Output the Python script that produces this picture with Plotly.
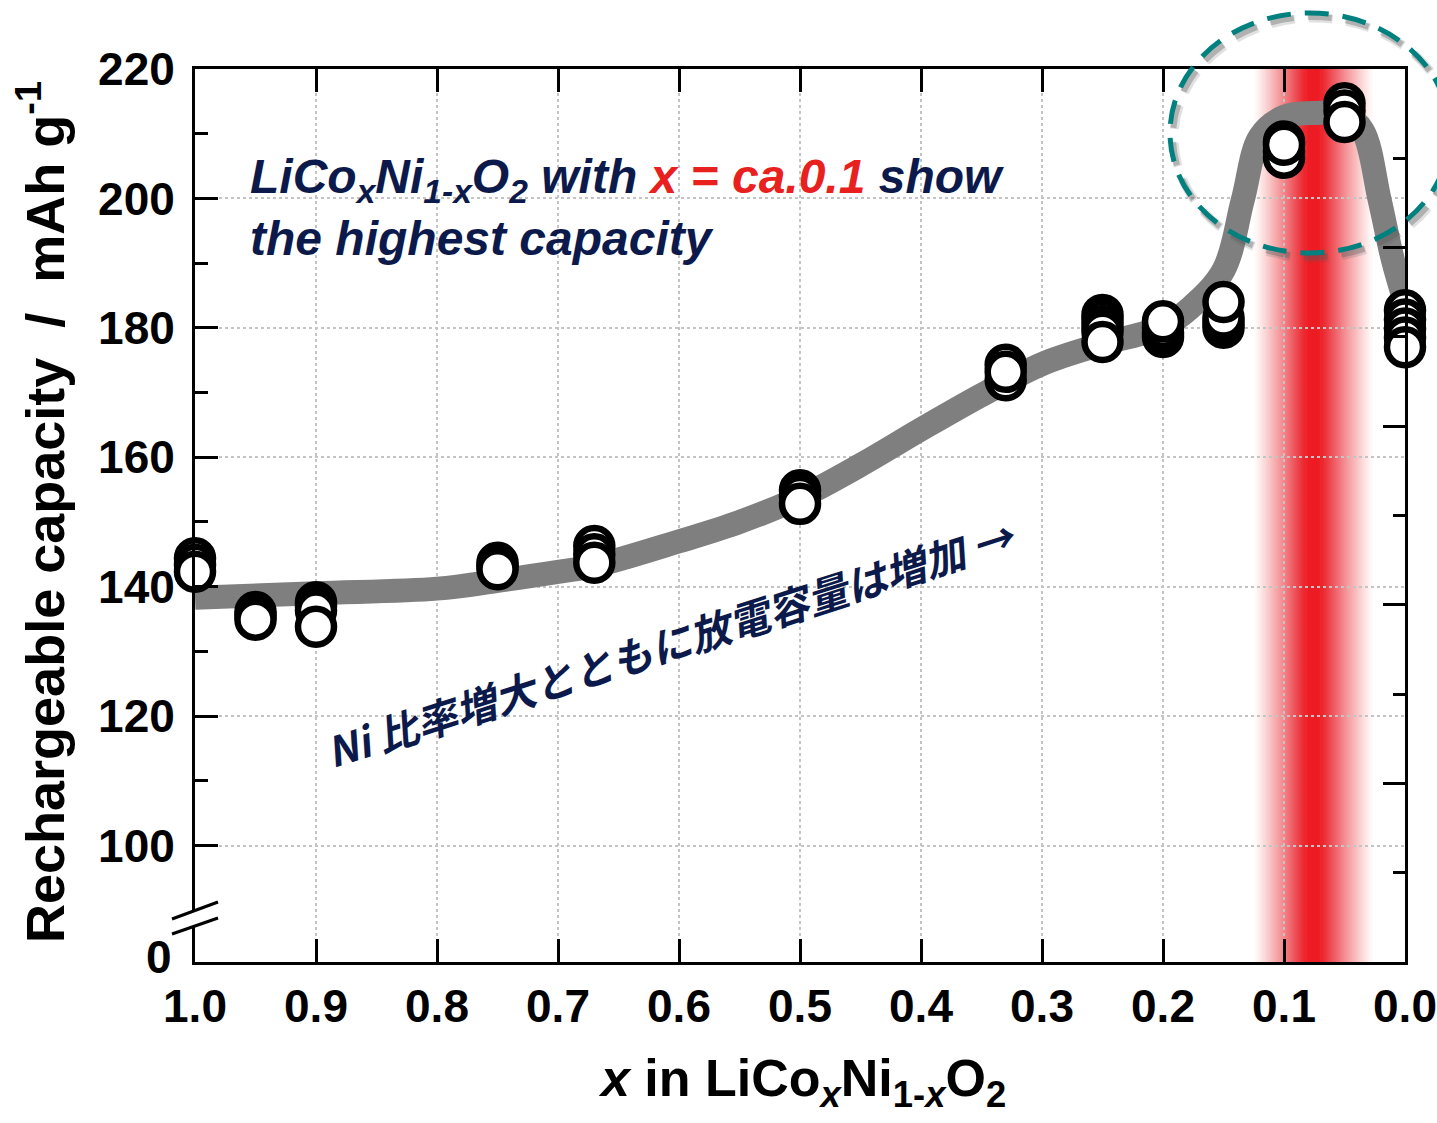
import plotly.graph_objects as go

# ---------------- data ----------------
# x in LiCo_xNi_(1-x)O_2 for each measured point, and rechargeable capacity (mAh/g)
point_x = [1.0, 1.0, 1.0,
           0.95, 0.95, 0.95,
           0.9, 0.9, 0.9, 0.9,
           0.75, 0.75, 0.75,
           0.67, 0.67, 0.67,
           0.5, 0.5, 0.5,
           0.33, 0.33, 0.33,
           0.25, 0.25, 0.25, 0.25, 0.25,
           0.2, 0.2, 0.2, 0.2,
           0.15, 0.15, 0.15, 0.15,
           0.1, 0.1, 0.1, 0.1,
           0.05, 0.05, 0.05,
           0.0, 0.0, 0.0, 0.0, 0.0]
point_cap = [144.4, 143.4, 142.3,
             136.1, 135.5, 134.9,
             137.6, 137.0, 136.3, 133.8,
             143.7, 143.2, 142.7,
             146.3, 145.0, 143.7,
             154.9, 154.0, 152.8,
             174.3, 171.9, 173.2,
             182.0, 181.2, 180.3, 179.4, 177.8,
             178.6, 179.2, 180.0, 181.0,
             180.0, 180.8, 181.6, 184.0,
             208.8, 207.2, 206.3, 208.3,
             214.7, 213.6, 211.8,
             182.7, 181.3, 179.9, 178.5, 177.0]

# guide-to-the-eye trend curve (centre line)
trend_x = [1.0, 0.9, 0.8, 0.75, 0.7, 0.67, 0.6, 0.55, 0.5, 0.45, 0.4, 0.35, 0.3,
           0.25, 0.2, 0.178, 0.15, 0.134, 0.12, 0.1, 0.073, 0.05, 0.035, 0.021,
           0.01, 0.0]
trend_cap = [138.3, 139.0, 139.7, 140.9, 142.3, 143.2, 147.0, 150.0, 153.8, 158.8,
             164.3, 169.6, 174.4, 177.5, 180.2, 183.0, 188.9, 199.8, 209.5, 212.6,
             213.2, 212.9, 210.5, 199.8, 190.5, 184.0]

x_tick_vals = [1.0, 0.9, 0.8, 0.7, 0.6, 0.5, 0.4, 0.3, 0.2, 0.1, 0.0]
x_tick_text = ["1.0", "0.9", "0.8", "0.7", "0.6", "0.5", "0.4", "0.3", "0.2", "0.1", "0.0"]
y_tick_vals = [100, 120, 140, 160, 180, 200, 220]
y_tick_text = ["100", "120", "140", "160", "180", "200", "220"]
y_minor_vals = [110, 130, 150, 170, 190, 210]

highlight_x = 0.0756   # centre of the red highlighted composition band

# ---------------- geometry / style ----------------
W, H = 1437, 1123
L, R, T, B = 195, 32, 69, 161
PW, PH = W - L - R, H - T - B


def px_x(px):
    return (px - L) / PW


def px_y(py):
    return (T + PH - py) / PH


AXF = "Liberation Sans, Arial, sans-serif"
TXF = "Liberation Sans, Arial, sans-serif"
NAVY = "#0c1a4b"
RED = "#e8201e"

fig = go.Figure()

fig.add_trace(go.Scatter(
    x=trend_x, y=trend_cap, mode="lines",
    line=dict(color="#7f7f7f", width=24, shape="spline", smoothing=1.0),
    hoverinfo="skip", showlegend=False))

fig.add_trace(go.Scatter(
    x=point_x, y=point_cap, mode="markers", cliponaxis=False,
    marker=dict(size=36, color="white", line=dict(color="black", width=6.5)),
    showlegend=False))

# dummy trace to activate the right-hand tick axis
fig.add_trace(go.Scatter(x=[None], y=[None], yaxis="y2", showlegend=False,
                         hoverinfo="skip"))

shapes = []
# red highlight band: nested translucent strips giving a soft linear fade
unit = 1.0 / PW
outer_px, core_px, step_px = 62, 9, 2
prev = 0.0
hw = outer_px - step_px
while hw >= core_px:
    target = 0.97 * ((outer_px - hw) / (outer_px - core_px)) ** 1.2
    a = 1 - (1 - target) / (1 - prev)
    shapes.append(dict(type="rect", xref="x", yref="paper",
                       x0=highlight_x - hw * unit, x1=highlight_x + hw * unit,
                       y0=0, y1=1, fillcolor="rgba(237,28,36,%.4f)" % a,
                       line=dict(width=0), layer="below"))
    prev = target
    hw -= step_px
shapes.append(dict(type="rect", xref="x", yref="paper",
                   x0=highlight_x - 6 * unit, x1=highlight_x + 6 * unit,
                   y0=0, y1=1, fillcolor="rgb(237,28,36)",
                   line=dict(width=0), layer="below"))

# dashed teal ellipse with soft shadow
ex0, ex1, ey0, ey1 = 1170, 1450, 13, 253
for dx, dy, w, c in [(4, 5, 9, "rgba(90,90,90,0.18)"), (3, 4, 6, "rgba(90,90,90,0.35)")]:
    shapes.append(dict(type="circle", xref="paper", yref="paper",
                       x0=px_x(ex0 + dx), x1=px_x(ex1 + dx), y0=px_y(ey1 + dy), y1=px_y(ey0 + dy),
                       line=dict(color=c, width=w, dash="24px,14px"), layer="above"))
shapes.append(dict(type="circle", xref="paper", yref="paper",
                   x0=px_x(ex0), x1=px_x(ex1), y0=px_y(ey1), y1=px_y(ey0),
                   line=dict(color="#00807e", width=5, dash="24px,14px"),
                   layer="above"))

# axis break on the y axis
shapes.append(dict(type="path", xref="paper", yref="paper",
                   path=("M {:.5f},{:.5f} L {:.5f},{:.5f} L {:.5f},{:.5f} L {:.5f},{:.5f} Z".format(
                       px_x(186), px_y(914.2), px_x(204), px_y(907.6),
                       px_x(204), px_y(922.9), px_x(186), px_y(929.1))),
                   fillcolor="white", line=dict(width=0), layer="above"))
shapes.append(dict(type="line", xref="paper", yref="paper",
                   x0=px_x(172), y0=px_y(919), x1=px_x(218), y1=px_y(902),
                   line=dict(color="black", width=3), layer="above"))
shapes.append(dict(type="line", xref="paper", yref="paper",
                   x0=px_x(172), y0=px_y(934), x1=px_x(218), y1=px_y(918),
                   line=dict(color="black", width=3), layer="above"))

annotations = [
    dict(text="0", xref="paper", yref="paper", x=px_x(174), y=px_y(957),
         xanchor="right", yanchor="middle", showarrow=False,
         font=dict(family=AXF, size=46, color="black", weight="bold")),
    dict(text="Rechargeable capacity  /  mAh g<sup>-1</sup>", xref="paper", yref="paper",
         x=px_x(41), y=px_y(512), xanchor="center", yanchor="middle", textangle=-90,
         showarrow=False, font=dict(family=AXF, size=54, color="black", weight="bold")),
    dict(text="<i>x</i> in LiCo<sub><i>x</i></sub>Ni<sub>1-<i>x</i></sub>O<sub>2</sub>",
         xref="paper", yref="paper", x=px_x(802), y=px_y(1082),
         xanchor="center", yanchor="middle", showarrow=False,
         font=dict(family=AXF, size=52, color="black", weight="bold")),
    dict(text=("<i>LiCo<sub>x</sub>Ni<sub>1-x</sub>O<sub>2</sub> with "
               "<span style='color:" + RED + "'>x = ca.0.1</span> show<br>"
               "the highest capacity</i>"),
         xref="paper", yref="paper", x=px_x(248), y=px_y(148),
         xanchor="left", yanchor="top", align="left", showarrow=False,
         font=dict(family=TXF, size=48, color=NAVY, weight="bold")),
    dict(text="<i>Ni 比率増大とともに放電容量は増加 →</i>",
         xref="paper", yref="paper", x=px_x(670), y=px_y(642),
         xanchor="center", yanchor="middle", textangle=-17.7, showarrow=False,
         font=dict(family="Noto Sans CJK JP, Noto Sans, sans-serif", size=41,
                   color=NAVY, weight="bold")),
]

fig.update_layout(
    width=W, height=H, autosize=False,
    margin=dict(l=L, r=R, t=T, b=B, pad=0, autoexpand=False),
    paper_bgcolor="white", plot_bgcolor="white",
    showlegend=False,
    shapes=shapes, annotations=annotations,
    xaxis=dict(range=[1.0, 0.0], tickmode="array", tickvals=x_tick_vals,
               ticktext=x_tick_text, ticks="inside", ticklen=23, tickwidth=3,
               tickcolor="black", showline=True, linewidth=3, linecolor="black",
               mirror="ticks", showgrid=True, gridcolor="#c4c4c4", griddash="dot",
               gridwidth=1.5, zeroline=False, ticklabelstandoff=2, automargin=False,
               tickfont=dict(family=AXF, size=46, color="black", weight="bold")),
    yaxis=dict(range=[82.0, 220.0], tickmode="array", tickvals=y_tick_vals,
               ticktext=y_tick_text, ticks="inside", ticklen=23, tickwidth=3,
               tickcolor="black", showline=True, linewidth=3, linecolor="black",
               showgrid=True, gridcolor="#c4c4c4", griddash="dot", gridwidth=1.5,
               zeroline=False, ticklabelstandoff=8, automargin=False,
               minor=dict(tickmode="array", tickvals=y_minor_vals, ticks="inside",
                          ticklen=13, tickwidth=3, tickcolor="black", showgrid=False),
               tickfont=dict(family=AXF, size=46, color="black", weight="bold")),
    yaxis2=dict(overlaying="y", side="right", range=[0, 10], tickmode="array",
                tickvals=[0, 2, 4, 6, 8, 10], ticks="inside", ticklen=22, tickwidth=3,
                tickcolor="black", showticklabels=False, showgrid=False, automargin=False,
                showline=True, linewidth=3, linecolor="black", zeroline=False,
                minor=dict(tickmode="array", tickvals=[1, 3, 5, 7, 9], ticks="inside",
                           ticklen=12, tickwidth=3, tickcolor="black", showgrid=False)),
)

fig.write_html("out.html", config={"displayModeBar": False},
               post_script="document.body.style.margin='0px';")
